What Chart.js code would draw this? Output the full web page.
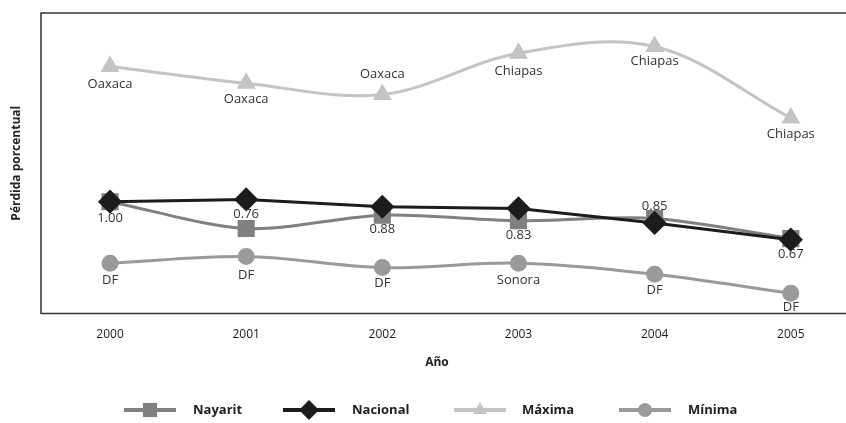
<!DOCTYPE html>
<html><head><meta charset="utf-8">
<script src="https://cdn.jsdelivr.net/npm/chart.js@4"></script>
<style>html,body{margin:0;padding:0;background:#fff}#wrap{width:846px;height:423px}</style>
</head><body><div id="wrap"><canvas id="c" width="846" height="423"></canvas></div>
<script>
const years = [2000, 2001, 2002, 2003, 2004, 2005];
const nayarit = [1.00, 0.76, 0.88, 0.83, 0.85, 0.67];
const nacional = [1.00, 1.02, 0.955, 0.94, 0.81, 0.66];
const maxima = [2.21, 2.06, 1.96, 2.33, 2.39, 1.75];
const minima = [0.45, 0.51, 0.41, 0.45, 0.35, 0.18];
const maximaLabels = ['Oaxaca', 'Oaxaca', 'Oaxaca', 'Chiapas', 'Chiapas', 'Chiapas'];
const nayaritLabels = ['1.00', '0.76', '0.88', '0.83', '0.85', '0.67'];
const minimaLabels = ['DF', 'DF', 'DF', 'Sonora', 'DF', 'DF'];
const seriesNames = ['Nayarit', 'Nacional', 'Máxima', 'Mínima'];

const pts = arr => arr.map((v, i) => ({x: years[i], y: v}));

// label placement (style)
const labelPlacement = {
  'Máxima': [18, 16, -20, 18, 15, 16],
  'Nayarit': [17, -14, 14, 15, -12, 16],
  'Mínima': [17, 19, 16, 17, 16, 14]
};
const labelTexts = {'Máxima': maximaLabels, 'Nayarit': nayaritLabels, 'Mínima': minimaLabels};

const FONT = '"Open Sans", "DejaVu Sans", sans-serif';

const decor = {
  id: 'decor',
  beforeDatasetsDraw(chart) {
    const {ctx, chartArea: a} = chart;
    ctx.save();
    ctx.strokeStyle = '#333';
    ctx.lineWidth = 1.5;
    ctx.beginPath();
    ctx.moveTo(846, a.top); ctx.lineTo(a.left, a.top); ctx.lineTo(a.left, a.bottom); ctx.lineTo(846, a.bottom);
    ctx.stroke();
    // y title
    ctx.translate(17, (a.top + a.bottom) / 2);
    ctx.rotate(-Math.PI / 2);
    ctx.fillStyle = '#222';
    ctx.font = 'bold 12px ' + FONT;
    ctx.textAlign = 'center'; ctx.textBaseline = 'middle';
    ctx.fillText('Pérdida porcentual', 0, 0);
    ctx.restore();
  },
  afterDatasetsDraw(chart) {
    const {ctx} = chart;
    ctx.save();
    ctx.font = '13px ' + FONT;
    ctx.fillStyle = '#333';
    ctx.textAlign = 'center'; ctx.textBaseline = 'middle';
    chart.data.datasets.forEach((ds, di) => {
      const texts = labelTexts[ds.label];
      if (!texts) return;
      const meta = chart.getDatasetMeta(di);
      meta.data.forEach((el, i) => {
        ctx.fillText(texts[i], el.x, el.y + labelPlacement[ds.label][i]);
      });
    });
    // legend
    const items = [[150, 193], [309, 352], [480, 522], [645, 688]];
    const ly = 410;
    ctx.font = 'bold 13px ' + FONT;
    ctx.textAlign = 'left';
    seriesNames.forEach((name, k) => {
      const ds = chart.data.datasets.find(d => d.label === name);
      const [mx, tx] = items[k];
      ctx.strokeStyle = ds.borderColor;
      ctx.lineWidth = 4;
      ctx.beginPath(); ctx.moveTo(mx - 26, ly); ctx.lineTo(mx + 26, ly); ctx.stroke();
      ctx.fillStyle = ds.pointBackgroundColor;
      Chart.helpers.drawPoint(ctx, {pointStyle: ds.pointStyle, radius: ds.pointRadius, borderWidth: 0, rotation: 0}, mx, ly);
      ctx.fillStyle = '#222';
      ctx.fillText(name, tx, ly);
    });
    ctx.restore();
  }
};

new Chart(document.getElementById('c'), {
  type: 'line',
  data: {
    datasets: [
      {label: 'Máxima', data: pts(maxima), borderColor: '#c4c4c4', pointBackgroundColor: '#c4c4c4', pointBorderColor: '#c4c4c4',
       pointStyle: 'triangle', pointRadius: 8, borderWidth: 3, tension: 0.35, order: 4},
      {label: 'Mínima', data: pts(minima), borderColor: '#9a9a9a', pointBackgroundColor: '#9a9a9a', pointBorderColor: '#9a9a9a',
       pointStyle: 'circle', pointRadius: 7, borderWidth: 3, tension: 0.35, order: 3},
      {label: 'Nayarit', data: pts(nayarit), borderColor: '#808080', pointBackgroundColor: '#808080', pointBorderColor: '#808080',
       pointStyle: 'rect', pointRadius: 10, borderWidth: 3, tension: 0.3, order: 2},
      {label: 'Nacional', data: pts(nacional), borderColor: '#1c1c1c', pointBackgroundColor: '#1c1c1c', pointBorderColor: '#1c1c1c',
       pointStyle: 'rectRot', pointRadius: 10, borderWidth: 3, tension: 0, order: 1}
    ]
  },
  options: {
    responsive: false, animation: false,
    layout: {padding: {left: 41, top: 12, right: 0, bottom: 54}},
    plugins: {legend: {display: false}, tooltip: {enabled: false}},
    scales: {
      x: {
        type: 'linear', min: 1999.493, max: 2005.31,
        afterBuildTicks: s => { s.ticks = years.map(v => ({value: v})); },
        grid: {display: false, drawTicks: false},
        border: {display: false},
        ticks: {padding: 14, color: '#222', font: {family: FONT, size: 12}, callback: v => String(v), maxRotation: 0, autoSkip: false},
        title: {display: true, text: 'Año', color: '#222', font: {family: FONT, size: 12, weight: 'bold', lineHeight: 1.1}, padding: {top: 0, bottom: 0}}
      },
      y: {display: false, min: 0, max: 2.69}
    }
  },
  plugins: [decor]
});
</script></body></html>
